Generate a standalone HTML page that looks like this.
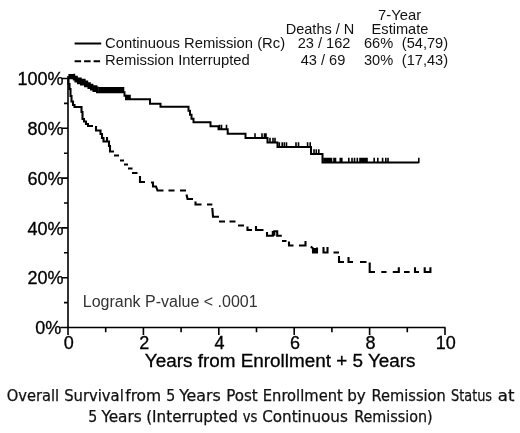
<!DOCTYPE html>
<html><head><meta charset="utf-8"><title>Overall Survival</title>
<style>
html,body{margin:0;padding:0;background:#fff;}
svg{display:block}
text{font-family:"Liberation Sans",Arial,sans-serif;fill:#111}
text.b{fill:#000;stroke:#000;stroke-width:0.3}
text.lr{fill:#333}
text.cap{font-family:"DejaVu Sans Condensed","DejaVu Sans","Liberation Sans",sans-serif;fill:#111;stroke:#111;stroke-width:0.25}
</style></head><body>
<svg width="520" height="433" viewBox="0 0 520 433">
<rect width="520" height="433" fill="#fff"/>
<path d="M68,76 V327.5 M60.3,327.5 H445.5 M61.8,327.50 H68 M64,302.60 H68 M61.8,277.70 H68 M64,252.80 H68 M61.8,227.90 H68 M64,203.00 H68 M61.8,178.10 H68 M64,153.20 H68 M61.8,128.30 H68 M64,103.40 H68 M61.8,78.50 H68 M68.00,327.5 V335.1 M105.70,327.5 V332.3 M143.40,327.5 V335.1 M181.10,327.5 V332.3 M218.80,327.5 V335.1 M256.50,327.5 V332.3 M294.20,327.5 V335.1 M331.90,327.5 V332.3 M369.60,327.5 V335.1 M407.30,327.5 V332.3 M445.00,327.5 V335.1" stroke="#000" stroke-width="1.6" fill="none"/>
<path d="M68.5,78.2 L73.8,78.2 L73.8,79.5 L75.5,79.5 L75.5,81.5 L78,81.5 L78,83.3 L81,83.3 L81,84.5 L85,84.5 L85,86.3 L88.5,86.3 L88.5,88.0 L91,88.0 L91,89.5 L93.5,89.5 L93.5,91.0 L97,91.0 L97,92.3 L124.5,92.3 L124.5,95.8 L126,95.8 L126,99.3 L150,99.3 L150,103.8 L160.5,103.8 L160.5,106.8 L188.5,106.8 L188.5,110.8 L190,110.8 L190,114.8 L191.5,114.8 L191.5,118.8 L193.5,118.8 L193.5,122.3 L210.5,122.3 L210.5,126.3 L218.5,126.3 L218.5,129.3 L227.7,129.3 L227.7,133.8 L245.5,133.8 L245.5,137.9 L267.5,137.9 L267.5,142.4 L277.5,142.4 L277.5,146.9 L311,146.9 L311,153.9 L322.5,153.9 L322.5,162.4 L418.8,162.4" stroke="#000" stroke-width="2" fill="none" stroke-linejoin="miter"/>
<path d="M69.2,78.7 V74.0 M70.5,78.7 V74.0 M71.8,78.7 V74.0 M73.1,78.7 V74.0 M74.4,80.0 V73.7 M75.7,82.0 V75.7 M77.0,82.0 V75.7 M78.3,83.8 V77.5 M79.6,83.8 V77.5 M80.9,83.8 V77.5 M82.2,85.0 V78.7 M83.5,85.0 V78.7 M84.8,85.0 V78.7 M86.1,86.8 V80.5 M87.4,86.8 V80.5 M88.7,88.5 V82.2 M90.0,88.5 V82.2 M91.3,90.0 V83.7 M92.6,90.0 V83.7 M93.9,91.5 V85.2 M95.2,91.5 V85.2 M96.5,91.5 V85.2 M97.8,92.8 V86.5 M99.5,92.8 V87.1 M101.0,92.8 V87.1 M102.5,92.8 V87.1 M104.0,92.8 V87.1 M105.5,92.8 V87.1 M107.0,92.8 V87.1 M108.5,92.8 V87.1 M110.0,92.8 V87.1 M111.5,92.8 V87.1 M113.0,92.8 V87.1 M114.5,92.8 V87.1 M116.0,92.8 V87.1 M117.5,92.8 V87.1 M119.0,92.8 V87.1 M120.5,92.8 V87.1 M122.0,92.8 V87.1 M123.5,92.8 V87.1 M127.0,99.8 V94.7 M128.5,99.8 V94.7 M130.0,99.8 V94.7 M219.5,129.8 V124.7 M221.5,129.8 V124.7 M226.5,129.8 V124.7 M255.0,138.4 V133.3 M262.0,138.4 V133.3 M264.5,138.4 V133.3 M266.0,138.4 V133.3 M270.0,142.9 V137.8 M273.0,142.9 V137.8 M275.0,142.9 V137.8 M279.3,147.4 V142.3 M282.2,147.4 V142.3 M284.3,147.4 V142.3 M286.5,147.4 V142.3 M296.0,147.4 V142.3 M298.5,147.4 V142.3 M307.6,147.4 V142.3 M310.2,147.4 V142.3 M314.0,154.4 V149.3 M316.3,154.4 V149.3 M318.8,154.4 V149.3 M324.0,162.9 V157.8 M325.5,162.9 V157.8 M327.0,162.9 V157.8 M328.5,162.9 V157.8 M330.0,162.9 V157.8 M331.5,162.9 V157.8 M334.0,162.9 V157.8 M335.5,162.9 V157.8 M340.3,162.9 V157.8 M341.8,162.9 V157.8 M348.8,162.9 V157.8 M352.0,162.9 V157.8 M354.5,162.9 V157.8 M357.3,162.9 V157.8 M360.0,162.9 V157.8 M361.5,162.9 V157.8 M363.0,162.9 V157.8 M364.5,162.9 V157.8 M366.0,162.9 V157.8 M367.0,162.9 V157.8 M374.2,162.9 V157.8 M377.8,162.9 V157.8 M382.6,162.9 V157.8 M385.8,162.9 V157.8 M388.0,162.9 V157.8 M418.8,162.9 V157.8 " stroke="#000" stroke-width="1.6" fill="none"/>
<path d="M68.5,78 L68.5,84 L69.5,84 L69.5,89 L70.5,89 L70.5,96 L71.5,96 L71.5,101.5 L73,101.5 L73,105 L74.5,105 L74.5,107 L81.5,107 L81.5,112 L82.5,112 L82.5,119 L84,119 L84,121.5 L86,121.5 L86,124 L88,124 L88,126 L93,126 M96,126 L96,130.5 L100.5,130.5 L100.5,134 L102,134 L102,138 L103.5,138 L103.5,141.5 L109,141.5 L109,146 L110,146 L110,151.5 L114,151.5 M107,137 L107,141.5 M114,155.5 L119,155.5 M120,160.5 L124,160.5 M124,164.5 L128,164.5 M128,168.5 L132.5,168.5 M132,173 L137.5,173 M140,176 L140,182 L145,182 M151,182.5 L153,182.5 L153,186.5 L156,186.5 L157.5,190.5 L163.5,190.5 M168.5,190.5 L174.5,190.5 M180,190.5 L186,190.5 M186.5,194.5 L187.5,199 L193,199 M195.5,201.5 L195.5,204.5 L201.5,204.5 M207,204.5 L212.3,204.5 M212.3,208 L213,216.7 L219,216.7 M219,221.5 L225,221.5 M229.5,221.5 L235.5,221.5 M238,225.5 L244,225.5 M247.5,226.5 L247.5,230 L252,230 M256,226 L256,230 L263.5,230 M267,232 L267,235.8 L272.8,235.8 L272.8,231 M274.3,235.8 L274.3,231.2 L277.2,231.2 L277.2,235.8 L281.8,235.8 M282,241 L286.5,241 M289,241.5 L289,245.5 L293.5,245.5 M299,245.5 L305.5,245.5 L305.5,241 M310.8,246.5 L313,248.5 L313,252.5 L317,252.5 L317,247.5 M315,248 L315,252.5 M323.5,247 L323.5,252.5 L327.5,252.5 L327.5,247 M333.5,252.5 L339,252.5 M339,256 L339,262 L344,262 M348.5,257 L348.5,262 L353,262 M360,262 L366.5,262 M369.7,262.5 L369.7,272 L375,272 M381.3,272 L386.5,272 M392.8,272 L398.8,272 L398.8,267.3 M404,272 L409.6,272 M415,267.3 L415,272 L419,272 M424.7,267.3 L424.7,272 L430.4,272 L430.4,267.3" stroke="#000" stroke-width="2.1" fill="none"/>
<path d="M74.6,43.5 H101.2" stroke="#000" stroke-width="2"/>
<path d="M74.6,61.2 H101.2" stroke="#000" stroke-width="2" stroke-dasharray="6.5 3"/>
<text x="61.2" y="333.5" font-size="18" text-anchor="end" class="b">0%</text>
<text x="63.5" y="284.3" font-size="18" text-anchor="end" class="b">20%</text>
<text x="63.5" y="234.5" font-size="18" text-anchor="end" class="b">40%</text>
<text x="63.5" y="184.7" font-size="18" text-anchor="end" class="b">60%</text>
<text x="63.5" y="134.9" font-size="18" text-anchor="end" class="b">80%</text>
<text x="63.5" y="85.1" font-size="18" text-anchor="end" class="b">100%</text>
<text x="68.8" y="348.8" font-size="18" text-anchor="middle" class="b">0</text>
<text x="144.2" y="348.8" font-size="18" text-anchor="middle" class="b">2</text>
<text x="219.6" y="348.8" font-size="18" text-anchor="middle" class="b">4</text>
<text x="295.0" y="348.8" font-size="18" text-anchor="middle" class="b">6</text>
<text x="370.4" y="348.8" font-size="18" text-anchor="middle" class="b">8</text>
<text x="445.8" y="348.8" font-size="18" text-anchor="middle" class="b">10</text>
<text x="280.2" y="366.8" font-size="18.9" text-anchor="middle" class="b">Years from Enrollment + 5 Years</text>
<text x="399.6" y="20.3" font-size="14.8" text-anchor="middle">7-Year</text>
<text x="400" y="34.4" font-size="14.6" text-anchor="middle">Estimate</text>
<text x="320" y="34.4" font-size="14.5" text-anchor="middle">Deaths / N</text>
<text x="105" y="48.4" font-size="14.8" text-anchor="start">Continuous Remission (Rc)</text>
<text x="105" y="65" font-size="14.8" text-anchor="start">Remission Interrupted</text>
<text x="324" y="48.4" font-size="14.6" text-anchor="middle">23 / 162</text>
<text x="323" y="65" font-size="14.6" text-anchor="middle">43 / 69</text>
<text x="364" y="48.4" font-size="14.6" text-anchor="start">66%</text>
<text x="364" y="65" font-size="14.6" text-anchor="start">30%</text>
<text x="401.8" y="48.4" font-size="14.6" text-anchor="start">(54,79)</text>
<text x="401.8" y="65" font-size="14.6" text-anchor="start">(17,43)</text>
<text x="82.8" y="307" font-size="16" text-anchor="start" class="lr">Logrank P-value &lt; .0001</text>
<text y="400.5" font-size="16" class="cap"><tspan x="6.8" textLength="52.4" lengthAdjust="spacingAndGlyphs">Overall</tspan> <tspan x="64.2" textLength="59.6" lengthAdjust="spacingAndGlyphs">Survival</tspan> <tspan x="125.2" textLength="36.0" lengthAdjust="spacingAndGlyphs">from</tspan> <tspan x="166.2" textLength="9.0" lengthAdjust="spacingAndGlyphs">5</tspan> <tspan x="179.2" textLength="41.6" lengthAdjust="spacingAndGlyphs">Years</tspan> <tspan x="226.2" textLength="31.6" lengthAdjust="spacingAndGlyphs">Post</tspan> <tspan x="262.8" textLength="80.0" lengthAdjust="spacingAndGlyphs">Enrollment</tspan> <tspan x="347.2" textLength="18.6" lengthAdjust="spacingAndGlyphs">by</tspan> <tspan x="371.6" textLength="74.2" lengthAdjust="spacingAndGlyphs">Remission</tspan> <tspan x="451.0" textLength="41.1" lengthAdjust="spacingAndGlyphs">Status</tspan> <tspan x="497.8" textLength="16.6" lengthAdjust="spacingAndGlyphs">at</tspan></text>
<text y="422" font-size="16" class="cap"><tspan x="88.2" textLength="9.0" lengthAdjust="spacingAndGlyphs">5</tspan> <tspan x="101.6" textLength="40.2" lengthAdjust="spacingAndGlyphs">Years</tspan> <tspan x="146.2" textLength="91.6" lengthAdjust="spacingAndGlyphs">(Interrupted</tspan> <tspan x="242.8" textLength="14.6" lengthAdjust="spacingAndGlyphs">vs</tspan> <tspan x="262.2" textLength="85.6" lengthAdjust="spacingAndGlyphs">Continuous</tspan> <tspan x="354.2" textLength="78.4" lengthAdjust="spacingAndGlyphs">Remission)</tspan></text>
</svg>
</body></html>
